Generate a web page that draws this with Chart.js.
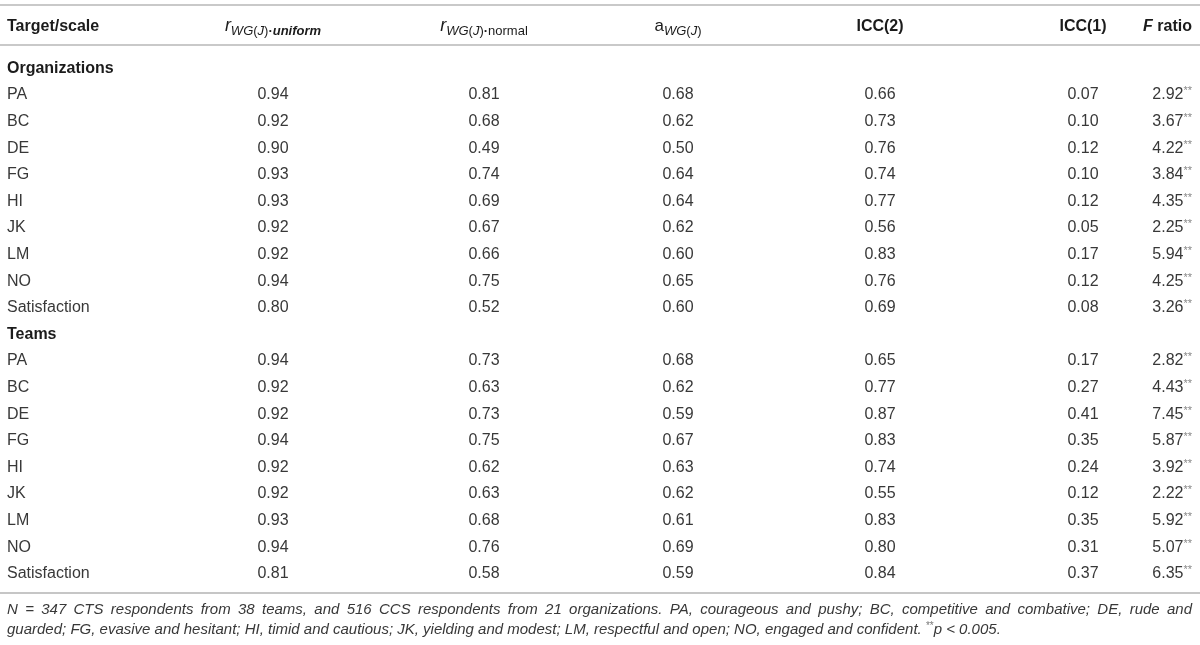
<!DOCTYPE html>
<html>
<head>
<meta charset="utf-8">
<script src="https://cdn.jsdelivr.net/npm/chart.js@4.4.1/dist/chart.umd.min.js"></script>
<style>
html, body { margin: 0; padding: 0; background: #fff; }
canvas { display: block; }
</style>
</head>
<body>
<canvas id="table" width="1200" height="645"></canvas>
<script>
// table content
var groups = ['Organizations', 'Teams'];
var scaleNames = ['PA', 'BC', 'DE', 'FG', 'HI', 'JK', 'LM', 'NO', 'Satisfaction'];

var orgUniform = [0.94, 0.92, 0.90, 0.93, 0.93, 0.92, 0.92, 0.94, 0.80];
var orgNormal  = [0.81, 0.68, 0.49, 0.74, 0.69, 0.67, 0.66, 0.75, 0.52];
var orgAwg     = [0.68, 0.62, 0.50, 0.64, 0.64, 0.62, 0.60, 0.65, 0.60];
var orgIcc2    = [0.66, 0.73, 0.76, 0.74, 0.77, 0.56, 0.83, 0.76, 0.69];
var orgIcc1    = [0.07, 0.10, 0.12, 0.10, 0.12, 0.05, 0.17, 0.12, 0.08];
var orgF       = [2.92, 3.67, 4.22, 3.84, 4.35, 2.25, 5.94, 4.25, 3.26];

var teamUniform = [0.94, 0.92, 0.92, 0.94, 0.92, 0.92, 0.93, 0.94, 0.81];
var teamNormal  = [0.73, 0.63, 0.73, 0.75, 0.62, 0.63, 0.68, 0.76, 0.58];
var teamAwg     = [0.68, 0.62, 0.59, 0.67, 0.63, 0.62, 0.61, 0.69, 0.59];
var teamIcc2    = [0.65, 0.77, 0.87, 0.83, 0.74, 0.55, 0.83, 0.80, 0.84];
var teamIcc1    = [0.17, 0.27, 0.41, 0.35, 0.24, 0.12, 0.35, 0.31, 0.37];
var teamF       = [2.82, 4.43, 7.45, 5.87, 3.92, 2.22, 5.92, 5.07, 6.35];

var footLine1 = 'N = 347 CTS respondents from 38 teams, and 516 CCS respondents from 21 organizations. PA, courageous and pushy; BC, competitive and combative; DE, rude and';
var footLine2 = 'guarded; FG, evasive and hesitant; HI, timid and cautious; JK, yielding and modest; LM, respectful and open; NO, engaged and confident.';
var footNote = 'p < 0.005.';

// layout
var FONT = '"Liberation Sans", Arial, Helvetica, sans-serif';
var ROW0 = 67, ROWH = 26.6, H = 645;
var colX = [7, 273, 484, 678, 880, 1083, 1192];
var colAlign = ['left', 'center', 'center', 'center', 'center', 'center', 'right'];
var bodyColor = '#383838';
var headColor = '#1b1b1b';

function f(style, size) { return style + ' ' + size + 'px ' + FONT; }
function rowOf(px) { return (px - ROW0) / ROWH; }

var headerRuns = [
  [{ t: 'Target/scale', f: f('bold', 16) }],
  [{ t: 'r', f: f('italic', 18) }, { t: 'WG', f: f('italic', 13), dy: 4 }, { t: '(', f: f('normal', 13), dy: 4 },
   { t: 'J', f: f('italic', 13), dy: 4 }, { t: ')', f: f('normal', 13), dy: 4 }, { t: '\u00b7', f: f('bold', 13), dy: 4 },
   { t: 'uniform', f: f('italic bold', 13), dy: 4 }],
  [{ t: 'r', f: f('italic', 18) }, { t: 'WG', f: f('italic', 13), dy: 4 }, { t: '(', f: f('normal', 13), dy: 4 },
   { t: 'J', f: f('italic', 13), dy: 4 }, { t: ')', f: f('normal', 13), dy: 4 }, { t: '\u00b7', f: f('bold', 13), dy: 4 },
   { t: 'normal', f: f('normal', 13), dy: 4 }],
  [{ t: 'a', f: f('normal', 17) }, { t: 'WG', f: f('italic', 13), dy: 4 }, { t: '(', f: f('normal', 13), dy: 4 },
   { t: 'J', f: f('italic', 13), dy: 4 }, { t: ')', f: f('normal', 13), dy: 4 }],
  [{ t: 'ICC(2)', f: f('bold', 16) }],
  [{ t: 'ICC(1)', f: f('bold', 16) }],
  [{ t: 'F', f: f('italic bold', 16) }, { t: ' ratio', f: f('bold', 16) }]
];

function measureRuns(ctx, runs) {
  var w = 0;
  runs.forEach(function (r) { ctx.font = r.f; r.w = ctx.measureText(r.t).width; w += r.w; });
  return w;
}

function drawRuns(ctx, runs, x, y, align, color) {
  var w = measureRuns(ctx, runs);
  var sx = align === 'center' ? x - w / 2 : align === 'right' ? x - w : x;
  runs.forEach(function (r) {
    ctx.font = r.f;
    ctx.fillStyle = r.c || color;
    ctx.fillText(r.t, sx, y + (r.dy || 0));
    sx += r.w;
  });
}

function cellRuns(col, value) {
  var runs = [{ t: value.toFixed(2), f: f('normal', 16) }];
  if (col === 6) runs.push({ t: '**', f: f('normal', 11), dy: -5, c: '#888' });
  return runs;
}

// datasets: one per column, plus labels
var orgCols = [orgUniform, orgNormal, orgAwg, orgIcc2, orgIcc1, orgF];
var teamCols = [teamUniform, teamNormal, teamAwg, teamIcc2, teamIcc1, teamF];

var datasets = [];
var labelPts = [];
groups.forEach(function (g, gi) {
  labelPts.push({ x: colX[0], y: gi * 10, text: g, bold: true });
  scaleNames.forEach(function (s, si) {
    labelPts.push({ x: colX[0], y: gi * 10 + 1 + si, text: s, bold: false });
  });
});
datasets.push({ label: 'Target/scale', col: 0, data: labelPts });

for (var c = 0; c < 6; c++) {
  var pts = [];
  [orgCols[c], teamCols[c]].forEach(function (vals, gi) {
    vals.forEach(function (v, si) { pts.push({ x: colX[c + 1], y: gi * 10 + 1 + si, v: v }); });
  });
  datasets.push({ label: 'col' + (c + 1), col: c + 1, data: pts });
}

var tableText = {
  id: 'tableText',
  afterDatasetsDraw: function (chart) {
    var ctx = chart.ctx;
    var ys = chart.scales.y, xs = chart.scales.x;
    var left = xs.getPixelForValue(0), right = xs.getPixelForValue(1200);
    ctx.save();
    ctx.textBaseline = 'alphabetic';

    // rules
    function rule(py, w, color) {
      var p = ys.getPixelForValue(rowOf(py));
      ctx.strokeStyle = color; ctx.lineWidth = w;
      ctx.beginPath(); ctx.moveTo(left, p); ctx.lineTo(right, p); ctx.stroke();
    }
    rule(5, 2, '#c9c9c9');
    rule(45, 2, '#c9c9c9');
    rule(593, 1.5, '#b3b3b3');

    // header
    var hy = ys.getPixelForValue(rowOf(25)) + 5.7;
    headerRuns.forEach(function (runs, i) {
      drawRuns(ctx, runs, xs.getPixelForValue(colX[i]), hy, colAlign[i], headColor);
    });

    // cells
    chart.data.datasets.forEach(function (ds, di) {
      var meta = chart.getDatasetMeta(di);
      meta.data.forEach(function (el, i) {
        var d = ds.data[i];
        var runs = ds.col === 0
          ? [{ t: d.text, f: f(d.bold ? 'bold' : 'normal', 16) }]
          : cellRuns(ds.col, d.v);
        drawRuns(ctx, runs, el.x, el.y + 5.7, colAlign[ds.col], d.bold ? headColor : bodyColor);
      });
    });

    // footnote, first line justified
    var fs = 15, x0 = xs.getPixelForValue(colX[0]), x1 = xs.getPixelForValue(colX[6]);
    ctx.font = f('italic', fs);
    ctx.fillStyle = bodyColor;
    var words = footLine1.split(' ');
    var sum = 0;
    words.forEach(function (w) { sum += ctx.measureText(w).width; });
    var gap = (x1 - x0 - sum) / (words.length - 1);
    var fy1 = ys.getPixelForValue(rowOf(609)) + 5.3;
    var sx = x0;
    words.forEach(function (w) { ctx.fillText(w, sx, fy1); sx += ctx.measureText(w).width + gap; });

    var fy2 = ys.getPixelForValue(rowOf(629)) + 5.3;
    drawRuns(ctx, [
      { t: footLine2 + ' ', f: f('italic', fs) },
      { t: '**', f: f('normal', 10), dy: -5, c: '#777' },
      { t: footNote, f: f('italic', fs) }
    ], x0, fy2, 'left', bodyColor);
    ctx.restore();
  }
};

new Chart(document.getElementById('table').getContext('2d'), {
  type: 'scatter',
  data: { datasets: datasets },
  options: {
    responsive: false,
    animation: false,
    layout: { padding: 0 },
    elements: { point: { radius: 0, hoverRadius: 0 } },
    plugins: { legend: { display: false }, tooltip: { enabled: false } },
    events: [],
    scales: {
      x: { type: 'linear', display: false, min: 0, max: 1200 },
      y: { type: 'linear', display: false, reverse: true, min: rowOf(0), max: rowOf(H) }
    }
  },
  plugins: [tableText]
});
</script>
</body>
</html>
